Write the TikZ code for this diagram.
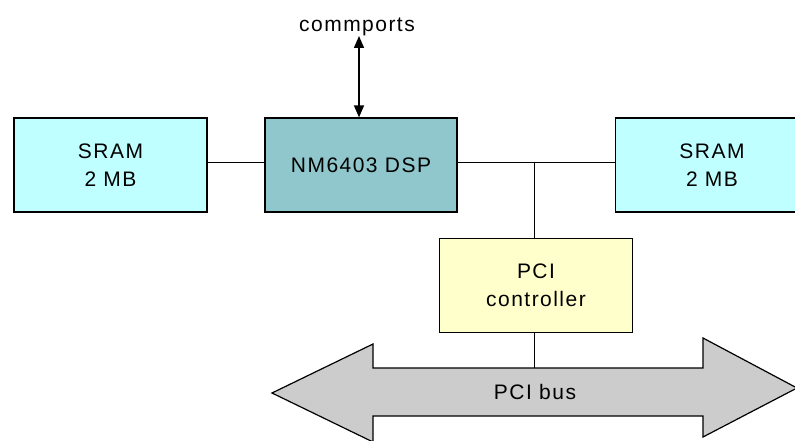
\documentclass[tikz,border=0pt]{standalone}
\usepackage{fontspec}
\setmainfont{Liberation Sans}[LetterSpace=7]
\usepackage{tikz}
\usetikzlibrary{positioning}
\usetikzlibrary{calc}
\usetikzlibrary{arrows.meta}
\definecolor{sramcol}{RGB}{192,255,255}
\definecolor{dspcol}{RGB}{143,199,204}
\definecolor{pcicol}{RGB}{255,255,204}
\definecolor{buscol}{RGB}{204,204,204}

\begin{document}
\begin{tikzpicture}[x=1pt, y=-1pt,
        block/.style={rectangle, draw=black, line width=1.2pt, minimum width=193pt, minimum height=94pt, align=center, font=\fontsize{21}{28}\selectfont},
        wire/.style={line width=1pt},
        label/.style={font=\fontsize{21}{28}\selectfont, inner sep=0pt}]
            \useasboundingbox (0,0) rectangle (795,441);
            \clip (0,0) rectangle (795,441);

            % PCI bus
            \draw[line width=1.2pt, fill=buscol] (272,393) -- (373,344) -- (373,368) -- (703,368) -- (703,338)
                -- (797,388) -- (703,437) -- (703,416) -- (373,416) -- (373,442) -- cycle;
            \node[label, minimum width=330pt, minimum height=48pt] (bus) at (535,392) {PCI bus};

            \node[block, fill=sramcol] (sram_l) at (110.5,165) {SRAM\\2 MB};
            \node[block, fill=dspcol, minimum width=192pt] (dsp) at (361,165) {NM6403 DSP};
            \node[block, fill=sramcol] (sram_r) at (712,165) {SRAM\\2 MB};
            \node[block, fill=pcicol] (pci) at (536,285.5) {PCI\\controller};
            \node[label, anchor=south] (ports) at (357,36) {commports};

            \coordinate (junc) at (534,162);

            \draw[wire] ([yshift=3pt]sram_l.east) -- ([yshift=3pt]dsp.west);
            \draw[wire] ([yshift=3pt]dsp.east) -- ([yshift=3pt]sram_r.west);
            \draw[wire] (junc) -- (junc |- pci.north);
            \draw[wire] (junc |- pci.south) -- (junc |- bus.north);
            \draw[line width=1.4pt, {Triangle[width=10pt,length=12pt]}-{Triangle[width=10pt,length=12pt]}]
                ([xshift=2pt]ports.south) -- ([xshift=2pt]ports.south |- dsp.north);
        \end{tikzpicture}
\end{document}
